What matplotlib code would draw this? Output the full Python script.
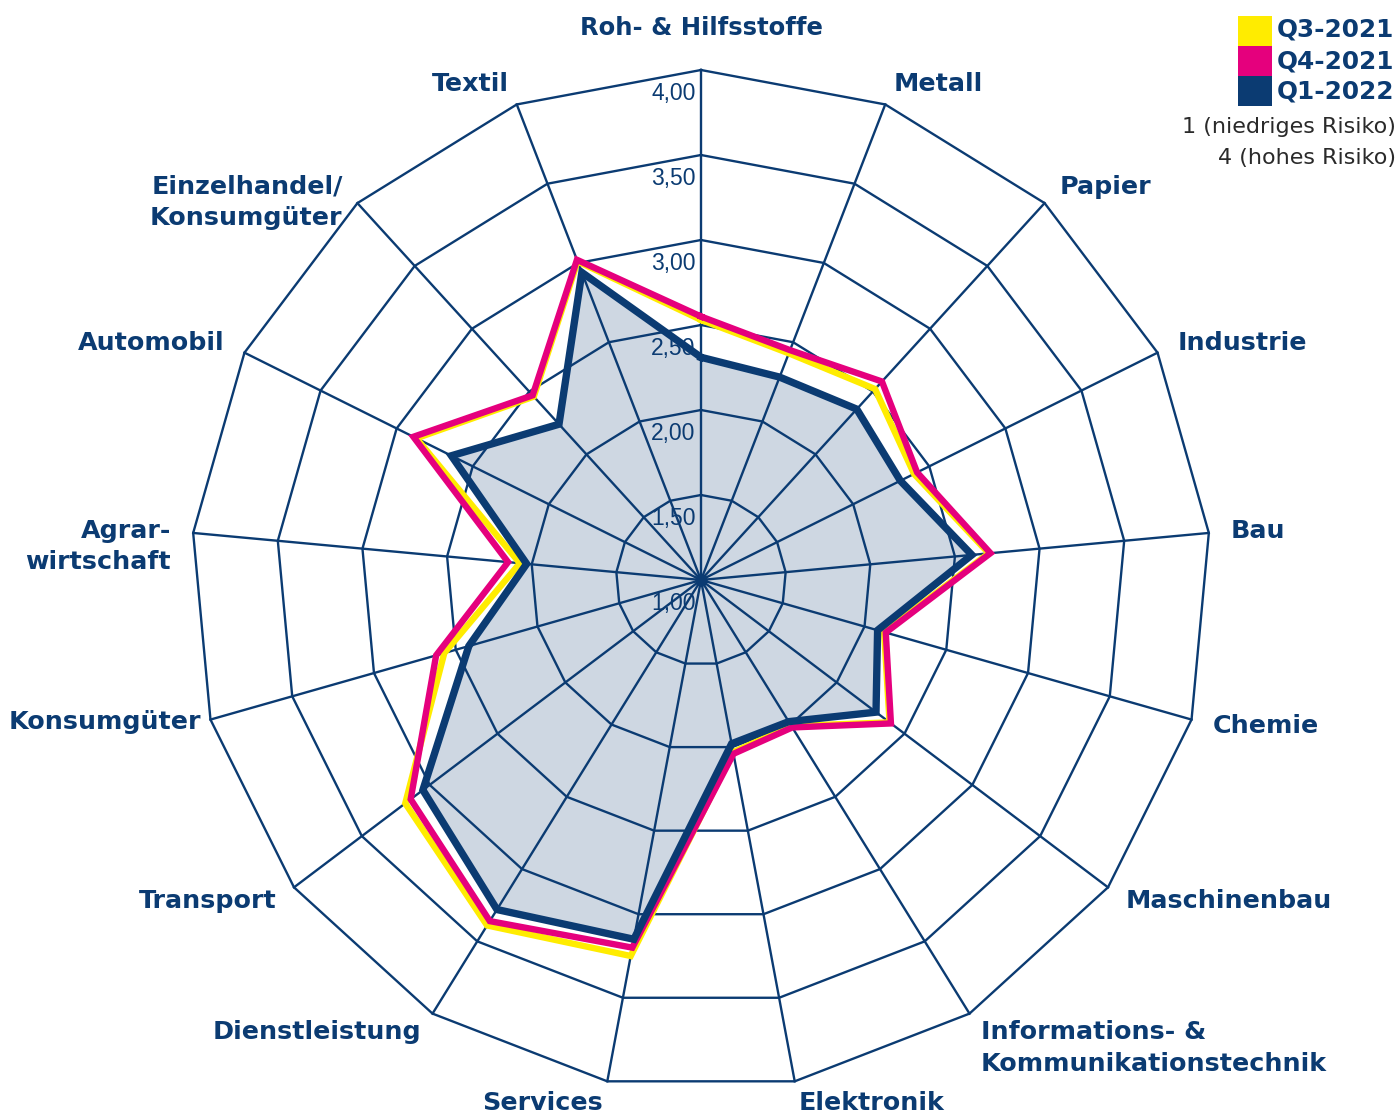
import numpy as np
import matplotlib
matplotlib.use("Agg")
import matplotlib.pyplot as plt
from matplotlib.patches import Rectangle

# sectors, clockwise from the top
sectors = ["Roh- & Hilfsstoffe", "Metall", "Papier", "Industrie", "Bau", "Chemie",
           "Maschinenbau", "Informations- &\nKommunikationstechnik", "Elektronik",
           "Services", "Dienstleistung", "Transport", "Konsumgüter",
           "Agrar-\nwirtschaft", "Automobil", "Einzelhandel/\nKonsumgüter", "Textil"]

q3_2021 = [2.53, 2.43, 2.52, 2.40, 2.70, 2.12, 2.39, 2.01, 2.03,
           3.25, 3.39, 3.18, 2.57, 2.07, 2.87, 2.46, 3.01]
q4_2021 = [2.55, 2.45, 2.58, 2.42, 2.71, 2.13, 2.40, 2.02, 2.04,
           3.20, 3.36, 3.14, 2.62, 2.14, 2.89, 2.47, 3.02]
q1_2022 = [2.31, 2.28, 2.36, 2.31, 2.60, 2.08, 2.29, 1.98, 1.98,
           3.15, 3.28, 3.05, 2.42, 2.03, 2.64, 2.24, 2.94]

ring_levels = [1.5, 2.0, 2.5, 3.0, 3.5, 4.0]
ring_labels = ["1,00", "1,50", "2,00", "2,50", "3,00", "3,50", "4,00"]
ring_label_values = [1.0, 1.5, 2.0, 2.5, 3.0, 3.5, 4.0]

series_names = ["Q3-2021", "Q4-2021", "Q1-2022"]

NAVY = "#0b3b72"
PINK = "#e5007d"
YELLOW = "#ffec00"

n = len(sectors)
theta = np.arange(n) * 2 * np.pi / n
theta_c = np.append(theta, theta[0])

def closed(vals):
    return np.append(vals, vals[0])

fig = plt.figure(figsize=(13.99, 11.17), dpi=100)
ax = fig.add_axes([0.13653, 0.02417, 0.72909, 0.91316], projection="polar")
ax.set_theta_zero_location("N")
ax.set_theta_direction(-1)
ax.set_ylim(1, 4)
ax.grid(False)
ax.set_xticks([])
ax.set_yticks([])
ax.spines["polar"].set_visible(False)
ax.patch.set_visible(False)

# fill of latest quarter
ax.fill(theta_c, closed(q1_2022), color=NAVY, alpha=0.2, lw=0, zorder=1)

# polygon grid
for lv in ring_levels:
    ax.plot(theta_c, [lv] * (n + 1), color=NAVY, lw=1.7, zorder=2, clip_on=False)
for t in theta:
    ax.plot([t, t], [1, 4], color=NAVY, lw=1.7, zorder=2, clip_on=False)
ax.plot([0], [1], "o", color=NAVY, ms=8, zorder=2)

# ring labels along the top spoke
for v, lab in zip(ring_label_values, ring_labels):
    ax.annotate(lab, xy=(0, v), xytext=(-4, -17), textcoords="offset points",
                ha="right", va="center", fontsize=16.5, color=NAVY,
                family="Liberation Sans", zorder=3, annotation_clip=False)

# series lines
ax.plot(theta_c, closed(q3_2021), color=YELLOW, lw=4.6, zorder=4,
        solid_joinstyle="miter", clip_on=False)
ax.plot(theta_c, closed(q4_2021), color=PINK, lw=4.6, zorder=5,
        solid_joinstyle="miter", clip_on=False)
ax.plot(theta_c, closed(q1_2022), color=NAVY, lw=5.3, zorder=6,
        solid_joinstyle="miter", clip_on=False)

# sector labels
for i, (t, name) in enumerate(zip(theta, sectors)):
    s = np.sin(t)
    if s > 0.01:
        ha = "left"
    elif s < -0.01:
        ha = "right"
    else:
        ha = "center"
    r = 4.25 if ha == "center" else 4.13
    if name == "Konsumgüter":
        r = 4.06  # sits a bit closer in the original
    for k, line in enumerate(name.split("\n")):
        ax.annotate(line, xy=(t, r), xytext=(0, -22.5 * k), textcoords="offset points",
                    ha=ha, va="center", fontsize=18.3 if ha != "center" else 17.5,
                    fontweight="bold", color=NAVY, annotation_clip=False)

# legend
colors = [YELLOW, PINK, NAVY]
for i, (name, c) in enumerate(zip(series_names, colors)):
    y0 = 1 - (16 + 30 * (i + 1)) / 1117
    fig.add_artist(Rectangle((1238 / 1399, y0), 34 / 1399, 30 / 1117,
                             transform=fig.transFigure, color=c, lw=0))
    fig.text(1394 / 1399, 1 - (30 + 31 * i) / 1117, name, ha="right", va="center",
             fontsize=17.8, fontweight="bold", color=NAVY)
fig.text(1396 / 1399, 1 - 127 / 1117, "1 (niedriges Risiko)", ha="right", va="center",
         fontsize=16, color="#2a2a2a")
fig.text(1396 / 1399, 1 - 158 / 1117, "4 (hohes Risiko)", ha="right", va="center",
         fontsize=16, color="#2a2a2a")

fig.savefig("out.png", dpi=100)
